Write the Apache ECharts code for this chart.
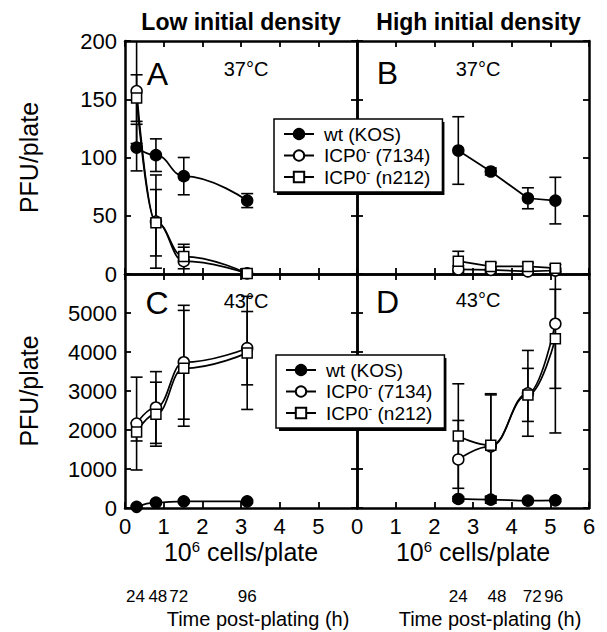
<!DOCTYPE html>
<html><head><meta charset="utf-8">
<script src="https://cdn.jsdelivr.net/npm/echarts@6/dist/echarts.min.js"></script>
<style>html,body{margin:0;padding:0;background:#fff}#c{width:607px;height:632px}</style>
</head><body><div id="c"></div>
<script>
// ---------------- data ----------------
const seriesNames = ['wt (KOS)', 'ICP0- (7134)', 'ICP0- (n212)'];
const densityLow = [0.3, 0.8, 1.52, 3.16];     // 10^6 cells/plate, low initial density
const densityHigh = [2.62, 3.46, 4.42, 5.13];  // 10^6 cells/plate, high initial density

// Panel A: 37 C, low density
const wtA = [108.5, 102, 84, 63];
const wtAErr = [20, 14, 16, 6];
const icp7134A = [157, 45, 11, 0.5];
const icp7134AErr = [45, 40, 12, 0];
const n212A = [151, 44, 15, 0.5];
const n212AErr = [20, 28.5, 10.5, 0];
// Panel B: 37 C, high density
const wtB = [106, 88, 65, 63];
const wtBErr = [29, 3, 9, 20];
const icp7134B = [4, 3.5, 2.3, 3];
const icp7134BErr = [3, 2, 2, 2];
const n212B = [11, 6.5, 6.5, 5];
const n212BErr = [8.5, 3, 3, 3];
// Panel C: 43 C, low density
const wtC = [30, 140, 170, 170];
const wtCErr = [30, 40, 40, 40];
const icp7134C = [2165, 2577, 3737, 4098];
const icp7134CErr = [1190, 920, 1460, 940];
const n212C = [1949, 2405, 3582, 3977];
const n212CErr = [230, 820, 1485, 1450];
// Panel D: 43 C, high density
const wtD = [232, 214, 188, 196];
const wtDErr = [60, 90, 30, 30];
const icp7134D = [1245, 1580, 2940, 4724];
const icp7134DErr = [1000, 1320, 1100, 2800];
const n212D = [1845, 1610, 2900, 4338];
const n212DErr = [1340, 1320, 680, 1270];

// ticks / labels
const densityTicks = [0, 1, 2, 3, 4, 5, 6];
const pfuTicksTop = [0, 50, 100, 150, 200];
const pfuTicksBottom = [0, 1000, 2000, 3000, 4000, 5000, 6000];
const timeLabels = ['24', '48', '72', '96'];
const timeLabelPosLow = [0.27, 0.85, 1.39, 3.16];
const timeLabelPosHigh = [2.62, 3.62, 4.53, 5.09];
const panelLetters = ['A', 'B', 'C', 'D'];
const panelTemps = ['37°C', '37°C', '43°C', '43°C'];
const columnTitles = ['Low initial density', 'High initial density'];

// ---------------- chart ----------------
const FONT = '"Liberation Sans", Arial, Helvetica, sans-serif';
const grids = [
  {left: 125, top: 41, width: 232, height: 233},
  {left: 357, top: 41, width: 232, height: 233},
  {left: 125, top: 274, width: 232, height: 234},
  {left: 357, top: 274, width: 232, height: 234}
];
const panels = [
  {x: densityLow, ticks: pfuTicksTop, smooth: 0.45, ys: [wtA, icp7134A, n212A], es: [wtAErr, icp7134AErr, n212AErr], xLab: false, yLab: true},
  {x: densityHigh, ticks: pfuTicksTop, smooth: false, ys: [wtB, icp7134B, n212B], es: [wtBErr, icp7134BErr, n212BErr], xLab: false, yLab: false},
  {x: densityLow, ticks: pfuTicksBottom, smooth: 0.45, ys: [wtC, icp7134C, n212C], es: [wtCErr, icp7134CErr, n212CErr], xLab: true, yLab: true, hideXMax: true, hideYMax: true, time: timeLabelPosLow},
  {x: densityHigh, ticks: pfuTicksBottom, smooth: 0.45, ys: [wtD, icp7134D, n212D], es: [wtDErr, icp7134DErr, n212DErr], xLab: true, yLab: false, hideYMax: true, time: timeLabelPosHigh}
];
const symbols = ['circle', 'circle', 'rect'];
const fills = ['#000', '#fff', '#fff'];

const xMax = densityTicks[densityTicks.length - 1];
const xInt = densityTicks[1] - densityTicks[0];

const xAxes = [], yAxes = [], series = [];
const tickStyle = {show: true, inside: true, length: 6, lineStyle: {color: '#000', width: 1.8}};
const lineStyle = {show: true, onZero: false, lineStyle: {color: '#000', width: 2.5}};

panels.forEach((p, i) => {
  const yMax = p.ticks[p.ticks.length - 1];
  const yInt = p.ticks[1] - p.ticks[0];
  ['bottom', 'top'].forEach((pos, k) => {
    const lab = k === 0 && p.xLab;
    xAxes.push({
      type: 'value', gridIndex: i, position: pos, min: 0, max: xMax, interval: xInt,
      axisLine: lineStyle, axisTick: tickStyle, splitLine: {show: false},
      axisLabel: {show: lab, margin: 7, color: '#000', fontSize: 22, fontFamily: FONT,
        formatter: v => (p.hideXMax && v === xMax) ? '' : String(v)},
      name: lab ? '10{sup|6} cells/plate' : '', nameLocation: 'middle', nameGap: 31,
      nameTextStyle: {color: '#000', fontSize: 25, fontFamily: FONT,
        rich: {sup: {fontSize: 15, fontFamily: FONT, color: '#000', verticalAlign: 'top', lineHeight: 14}}}
    });
  });
  ['left', 'right'].forEach((pos, k) => {
    const lab = k === 0 && p.yLab;
    yAxes.push({
      type: 'value', gridIndex: i, position: pos, min: 0, max: yMax, interval: yInt,
      axisLine: lineStyle, axisTick: tickStyle, splitLine: {show: false},
      axisLabel: {show: lab, margin: 8, color: '#000', fontSize: 22, fontFamily: FONT,
        formatter: v => (p.hideYMax && v === yMax) ? '' : String(v)},
      name: lab ? 'PFU/plate' : '', nameLocation: 'middle', nameGap: 84,
      nameTextStyle: {color: '#000', fontSize: 25, fontFamily: FONT}
    });
  });

  // error bars
  const errData = [];
  p.ys.forEach((ys, s) => {
    ys.forEach((v, k) => {
      const e = p.es[s][k];
      if (e > 0) errData.push([p.x[k], v - e, v + e]);
    });
  });
  series.push({
    type: 'custom', xAxisIndex: 2 * i, yAxisIndex: 2 * i, silent: true, z: 2,
    data: errData,
    renderItem: (params, api) => {
      const x = api.value(0);
      const lo = Math.max(0, api.value(1));
      const hi = Math.min(yMax, api.value(2));
      const p1 = api.coord([x, lo]);
      const p2 = api.coord([x, hi]);
      const w = 6;
      const st = {stroke: '#000', lineWidth: 1.6};
      const ch = [{type: 'line', shape: {x1: p1[0], y1: p1[1], x2: p2[0], y2: p2[1]}, style: st}];
      if (api.value(1) >= 0) ch.push({type: 'line', shape: {x1: p1[0] - w, y1: p1[1], x2: p1[0] + w, y2: p1[1]}, style: st});
      if (api.value(2) <= yMax) ch.push({type: 'line', shape: {x1: p2[0] - w, y1: p2[1], x2: p2[0] + w, y2: p2[1]}, style: st});
      return {type: 'group', children: ch};
    }
  });

  p.ys.forEach((ys, s) => {
    series.push({
      type: 'line', name: seriesNames[s], xAxisIndex: 2 * i, yAxisIndex: 2 * i, z: 3,
      data: ys.map((v, k) => [p.x[k], v]),
      smooth: p.smooth, smoothMonotone: 'x',
      symbol: symbols[s], symbolSize: s === 2 ? 10 : 11, showAllSymbol: true,
      lineStyle: {color: '#000', width: 1.7},
      itemStyle: {color: fills[s], borderColor: '#000', borderWidth: 1.5, opacity: 1}
    });
  });
});

// time post-plating axes
[2, 3].forEach(i => {
  const pos = panels[i].time;
  xAxes.push({
    type: 'value', gridIndex: i, position: 'bottom', offset: 74, min: 0, max: xMax,
    axisLine: {show: false}, axisTick: {show: false}, splitLine: {show: false},
    axisLabel: {show: true, margin: 6, color: '#000', fontSize: 17, fontFamily: FONT,
      customValues: pos,
      formatter: v => { const k = pos.findIndex(q => Math.abs(q - v) < 1e-6); return k >= 0 ? timeLabels[k] : ''; }},
    name: 'Time post-plating (h)', nameLocation: 'middle', nameGap: 27,
    nameTextStyle: {color: '#000', fontSize: 20, fontFamily: FONT, padding: [0, 0, 0, 34]}
  });
});

const legendPad = [5, 12, 5, 9];
const legendBase = {
  data: seriesNames, orient: 'vertical', selectedMode: false,
  itemWidth: 30, itemHeight: 13, itemGap: 1.5, padding: legendPad,
  backgroundColor: '#fff', borderColor: '#000', borderWidth: 1.5, borderRadius: 0,
  textStyle: {color: '#000', fontSize: 19, fontFamily: FONT, lineHeight: 20, padding: [0, 0, 0, 5],
    rich: {sup: {fontSize: 12, fontFamily: FONT, color: '#000', verticalAlign: 'top', lineHeight: 10}}},
  formatter: n => n.replace('ICP0-', 'ICP0{sup|-}')
};
// size of the legend box, for its drop shadow
const mctx = document.createElement('canvas').getContext('2d');
function tw(txt, size) { mctx.font = size + 'px ' + FONT; return mctx.measureText(txt).width; }
const maxTextW = Math.max(...seriesNames.map(n => n.indexOf('ICP0-') === 0
  ? tw(n.replace('ICP0-', 'ICP0'), 19) + tw('-', 12) : tw(n, 19)));
const legendW = legendPad[3] + 30 + 5 + 5 + maxTextW + legendPad[1];
const legendH = legendPad[0] + 3 * 20 + 2 * 1.5 + legendPad[2];
const legendPos = [[274, 119], [276, 355]];

const graphics = [];
legendPos.forEach(q => {
  graphics.push({type: 'rect', z: 3, silent: true,
    shape: {x: q[0] + 3, y: q[1] + 3, width: legendW, height: legendH},
    style: {fill: '#000'}});
});
const letterPos = [[157.5, 73.5], [387.5, 72.5], [157, 302.5], [387.5, 301.5]];
const tempPos = [[246, 69], [478, 68.5], [246, 301], [478, 300]];
panelLetters.forEach((t, i) => {
  graphics.push({type: 'text', x: letterPos[i][0], y: letterPos[i][1], z: 10,
    style: {text: t, fill: '#000', font: '32px ' + FONT, align: 'center', verticalAlign: 'middle', textAlign: 'center', textVerticalAlign: 'middle'}});
  graphics.push({type: 'text', x: tempPos[i][0], y: tempPos[i][1], z: 10,
    style: {text: panelTemps[i], fill: '#000', font: '20px ' + FONT, align: 'center', verticalAlign: 'middle', textAlign: 'center', textVerticalAlign: 'middle'}});
});
[[241, 22], [478.5, 22]].forEach((q, i) => {
  graphics.push({type: 'text', x: q[0], y: q[1],
    style: {text: columnTitles[i], fill: '#000', font: 'bold 23px ' + FONT, align: 'center', verticalAlign: 'middle', textAlign: 'center', textVerticalAlign: 'middle'}});
});

const chart = echarts.init(document.getElementById('c'), null, {renderer: 'svg'});
chart.setOption({
  animation: false,
  backgroundColor: '#fff',
  grid: grids,
  xAxis: xAxes,
  yAxis: yAxes,
  legend: legendPos.map(q => Object.assign({}, legendBase, {left: q[0], top: q[1], z: 5})),
  graphic: graphics,
  series: series
});
</script>
</body></html>
